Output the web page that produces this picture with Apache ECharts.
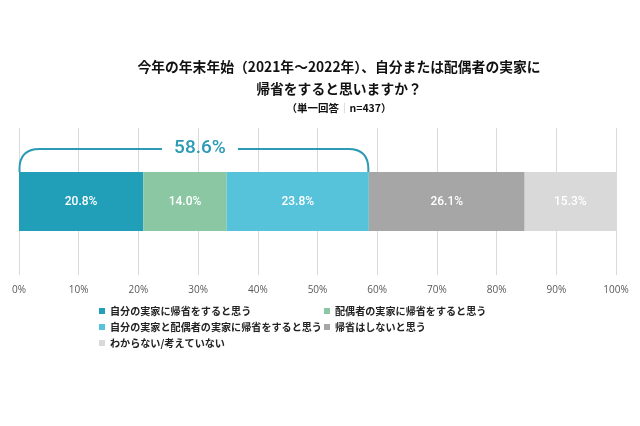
<!DOCTYPE html>
<html>
<head>
<meta charset="utf-8">
<script src="https://cdn.jsdelivr.net/npm/echarts@6/dist/echarts.min.js"></script>
<style>html,body{margin:0;padding:0;background:#fff;}#c{width:640px;height:426px;}</style>
</head>
<body>
<div id="c"></div>
<script>
const categories = ['回答'];
const seriesNames = [
  '自分の実家に帰省をすると思う',
  '配偶者の実家に帰省をすると思う',
  '自分の実家と配偶者の実家に帰省をすると思う',
  '帰省はしないと思う',
  'わからない/考えていない'
];
const values = [20.8, 14.0, 23.8, 26.1, 15.3];
const bracketIndices = [0, 1, 2];
const xTicks = { min: 0, max: 100, interval: 10 };

const colors = ['#219eb8', '#8cc7a4', '#57c3db', '#a6a6a6', '#d9d9d9'];
const JP = '"Noto Sans CJK JP", "Noto Sans", sans-serif';
const bracketTotal = +bracketIndices.reduce((s, i) => s + values[i], 0).toFixed(1);

const chart = echarts.init(document.getElementById('c'), null, { renderer: 'canvas' });

const barSeries = seriesNames.map((name, i) => ({
  name: name,
  type: 'bar',
  stack: 'total',
  barWidth: 59,
  itemStyle: { color: colors[i] },
  label: {
    show: true,
    position: 'inside',
    color: '#fff',
    fontSize: 12,
    fontWeight: 500,
    fontFamily: 'Roboto, sans-serif',
    formatter: p => p.value.toFixed(1) + '%'
  },
  data: [values[i]]
}));

const bracketColor = '#2b9ab5';
const bracketSeries = {
  type: 'custom',
  silent: true,
  z: 5,
  encode: { x: [0, 1], y: 2 },
  data: [[0, bracketTotal, 0]],
  renderItem: function (params, api) {
    const a = api.coord([api.value(0), api.value(2)]);
    const b = api.coord([api.value(1), api.value(2)]);
    const barTop = a[1] - 29.5;
    const lineY = barTop - 23;
    const r = 20;
    const x0 = a[0] + 0.5, x1 = b[0] - 0.5;
    const tx = (x0 + x1) / 2 + 6;
    const gap = 38;
    const d = 'M' + x0 + ' ' + barTop + ' L' + x0 + ' ' + (lineY + r) +
      ' Q' + x0 + ' ' + lineY + ' ' + (x0 + r) + ' ' + lineY +
      ' L' + (tx - gap) + ' ' + lineY +
      ' M' + (tx + gap) + ' ' + lineY + ' L' + (x1 - r) + ' ' + lineY +
      ' Q' + x1 + ' ' + lineY + ' ' + x1 + ' ' + (lineY + r) +
      ' L' + x1 + ' ' + barTop;
    return {
      type: 'group',
      children: [
        {
          type: 'path',
          shape: { pathData: d },
          style: { fill: null, stroke: bracketColor, lineWidth: 2 }
        },
        {
          type: 'text',
          style: {
            text: bracketTotal.toFixed(1) + '%',
            x: tx, y: lineY - 1,
            align: 'center', verticalAlign: 'middle',
            fill: bracketColor,
            font: '500 19px Roboto, sans-serif'
          }
        }
      ]
    };
  }
};

const legendRows = [
  { name: seriesNames[0], left: 99, y: 311 },
  { name: seriesNames[1], left: 324, y: 311 },
  { name: seriesNames[2], left: 99, y: 327 },
  { name: seriesNames[3], left: 324, y: 327 },
  { name: seriesNames[4], left: 99, y: 343 }
];

const option = {
  animation: false,
  backgroundColor: '#fff',
  title: [
    {
      text: '今年の年末年始（2021年～2022年）、自分または配偶者の実家に\n帰省をすると思いますか？',
      left: 334, top: 51, textAlign: 'center',
      textStyle: { fontFamily: JP, fontSize: 13.8, fontWeight: 'bold', color: '#111', lineHeight: 22 }
    },
    {
      text: '（単一回答{s|｜}n=437）',
      left: 334, top: 95, textAlign: 'center',
      textStyle: {
        fontFamily: JP, fontSize: 10.5, fontWeight: 'bold', color: '#111', lineHeight: 16,
        rich: { s: { fontFamily: JP, fontSize: 10.5, color: '#bbb', fontWeight: 'normal' } }
      }
    }
  ],
  legend: legendRows.map(r => ({
    data: [r.name],
    left: r.left,
    top: r.y - 7,
    padding: 0,
    itemWidth: 6,
    itemHeight: 6,
    icon: 'rect',
    selectedMode: false,
    textStyle: { fontFamily: JP, fontSize: 10.1, fontWeight: 'bold', color: '#222', lineHeight: 14 }
  })),
  grid: { left: 19, right: 24, top: 128, bottom: 151, containLabel: false },
  xAxis: {
    type: 'value',
    min: xTicks.min, max: xTicks.max, interval: xTicks.interval,
    axisLine: { show: false },
    axisTick: { show: false },
    splitLine: { show: true, lineStyle: { color: '#d9d9d9', width: 1 } },
    axisLabel: { formatter: '{value}%', color: '#595959', fontSize: 10, margin: 10, fontFamily: '"Open Sans", sans-serif' }
  },
  yAxis: {
    type: 'category',
    data: categories,
    show: false
  },
  series: barSeries.concat([bracketSeries])
};

chart.setOption(option);
</script>
</body>
</html>
